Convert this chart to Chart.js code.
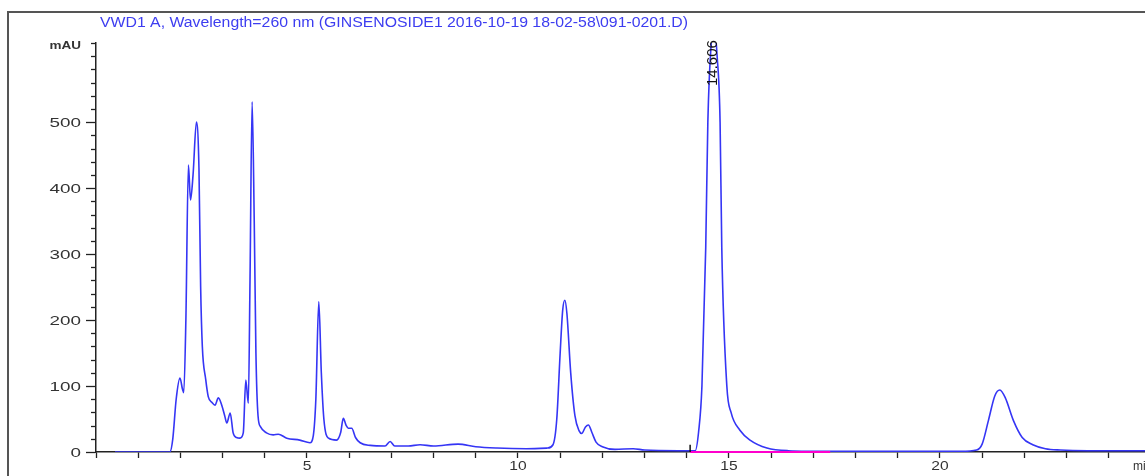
<!DOCTYPE html>
<html>
<head>
<meta charset="utf-8">
<script src="https://cdn.jsdelivr.net/npm/chart.js@4.4.1/dist/chart.umd.min.js"></script>
<style>
  html, body { margin: 0; padding: 0; background: #fff; overflow: hidden; }
  #wrap { width: 1145px; height: 476px; position: relative; }
</style>
</head>
<body>
<div id="wrap"><canvas id="hplcChart" width="1145" height="476"></canvas></div>
<script>
const chartTitle = 'VWD1 A, Wavelength=260 nm (GINSENOSIDE1 2016-10-19 18-02-58\\091-0201.D)';

// retention time (min) and signal (mAU)
const times = [0.45, 1.75, 1.82, 1.90, 1.99, 2.05, 2.08, 2.13, 2.19, 2.24, 2.30, 2.38, 2.44, 2.48, 2.52, 2.60, 2.66, 2.75, 2.82, 2.90,
  2.98, 3.05, 3.10, 3.18, 3.25, 3.33, 3.41, 3.49, 3.55, 3.61, 3.65, 3.70, 3.75, 3.79, 3.84, 3.90, 4.04, 4.20, 4.32, 4.52,
  4.83, 5.07, 5.15, 5.21, 5.28, 5.34, 5.40, 5.51, 5.70, 5.80, 5.86, 5.93, 5.98, 6.06, 6.15, 6.26, 6.50, 6.85, 6.97, 7.08,
  7.40, 7.68, 8.00, 8.58, 9.00, 9.50, 10.20, 10.70, 10.83, 10.92, 11.00, 11.06, 11.11, 11.16, 11.25, 11.35, 11.45, 11.51, 11.60, 11.67,
  11.75, 11.85, 12.00, 12.30, 12.73, 13.00, 13.80, 14.20, 14.28, 14.36, 14.45, 14.50, 14.58, 14.64, 14.72, 14.79, 14.83, 14.95, 15.05, 15.26,
  15.50, 15.90, 16.40, 17.50, 20.50, 20.87, 21.00, 21.15, 21.30, 21.42, 21.55, 21.74, 21.95, 22.20, 22.50, 22.85, 23.50, 24.86];
const signal = [0, 0, 20, 80, 112, 95, 90, 200, 435, 382, 420, 500, 430, 250, 160, 110, 84, 75, 71, 82,
  71, 55, 44, 59, 29, 22, 21, 29, 109, 74, 261, 531, 350, 150, 55, 38, 29, 26, 27, 21,
  18, 14, 25, 80, 228, 120, 50, 21, 18, 30, 51, 40, 36, 36, 22, 14, 10, 9, 16, 9,
  9, 11, 9, 12, 8, 6, 5, 6, 11, 50, 150, 215, 230, 210, 120, 55, 32, 28, 38, 41,
  30, 15, 8, 4, 5, 3, 2, 2, 30, 100, 310, 500, 620, 650, 600, 500, 310, 100, 60, 33,
  18, 6, 2, 1, 1, 3, 12, 48, 85, 94, 82, 48, 22, 11, 5, 3, 2, 2];

// integration baseline and start marker
const baselineTimes = [14.08, 17.4];
const baselineValues = [0, 0];
const markerTimes = [14.08, 14.08];
const markerValues = [0, 11];

const peakTimes = [14.64];
const peakLabels = ['14.606'];

const xMax = 24.86;
const yMax = 620;
const fontFamily = '"Liberation Sans", Arial, sans-serif';

const toPoints = (xs, ys) => xs.map((x, i) => ({ x: x, y: ys[i] }));

// the original printout has horizontally stretched lettering
function stretchedText(ctx, text, x, y, align, sx) {
  const w = ctx.measureText(text).width * sx;
  let left = x;
  if (align === 'right') left = x - w;
  if (align === 'center') left = x - w / 2;
  ctx.save();
  ctx.translate(left, y);
  ctx.scale(sx, 1);
  ctx.textAlign = 'left';
  ctx.fillText(text, 0, 0);
  ctx.restore();
}

const frameAndText = {
  id: 'frameAndText',
  afterDraw(chart) {
    const ctx = chart.ctx;
    const xs = chart.scales.x;
    const ys = chart.scales.y;
    ctx.save();
    // outer frame
    ctx.strokeStyle = '#555';
    ctx.lineWidth = 2;
    ctx.beginPath();
    ctx.moveTo(8, 476);
    ctx.lineTo(8, 12);
    ctx.lineTo(1145, 12);
    ctx.stroke();

    // title, fitted to the width it has in the printout
    ctx.fillStyle = '#3d3df0';
    ctx.font = '14px ' + fontFamily;
    ctx.textBaseline = 'alphabetic';
    const tw = ctx.measureText(chartTitle).width;
    stretchedText(ctx, chartTitle, 100, 27, 'left', 588 / tw);

    // minor y ticks
    ctx.strokeStyle = '#222';
    ctx.lineWidth = 1.3;
    for (let v = 20; v <= yMax; v += 20) {
      if (v % 100 === 0 && v <= 500) continue;
      const py = Math.round(ys.getPixelForValue(v)) + 0.5;
      ctx.beginPath();
      ctx.moveTo(xs.left - 5, py);
      ctx.lineTo(xs.left, py);
      ctx.stroke();
    }

    // tick labels
    ctx.fillStyle = '#333';
    ctx.font = '13px ' + fontFamily;
    ctx.textBaseline = 'middle';
    ys.ticks.forEach(t => {
      if (t.value % 100 === 0 && t.value <= 500) {
        stretchedText(ctx, String(t.value), 81, ys.getPixelForValue(t.value) + 1, 'right', 1.45);
      }
    });
    xs.ticks.forEach(t => {
      if (t.value > 0 && t.value % 5 === 0) {
        stretchedText(ctx, String(t.value), xs.getPixelForValue(t.value), 466, 'center', 1.2);
      }
    });

    // axis units
    ctx.font = 'bold 10px ' + fontFamily;
    stretchedText(ctx, 'mAU', 81, ys.getPixelForValue(yMax) + 3, 'right', 1.35);
    ctx.font = '12px ' + fontFamily;
    stretchedText(ctx, 'min', 1133, 467, 'left', 1.0);

    // peak labels, rotated
    ctx.fillStyle = '#111';
    ctx.font = '15px ' + fontFamily;
    peakTimes.forEach((t, i) => {
      ctx.save();
      ctx.translate(xs.getPixelForValue(t) - 1, 86);
      ctx.rotate(-Math.PI / 2);
      ctx.textAlign = 'left';
      ctx.textBaseline = 'middle';
      ctx.fillText(peakLabels[i], 0, 0);
      ctx.restore();
    });
    ctx.restore();
  }
};

const ctx1 = document.getElementById('hplcChart').getContext('2d');
const hplcChart = new Chart(ctx1, {
  type: 'line',
  data: {
    datasets: [
      {
        label: 'marker',
        data: toPoints(markerTimes, markerValues),
        borderColor: '#111',
        borderWidth: 1.5,
        pointRadius: 0,
        clip: false,
        order: 0
      },
      {
        label: 'baseline',
        data: toPoints(baselineTimes, baselineValues),
        borderColor: '#ff00cc',
        borderWidth: 2,
        pointRadius: 0,
        clip: false,
        order: 1
      },
      {
        label: 'VWD1 A',
        data: toPoints(times, signal),
        borderColor: '#3535f5',
        borderWidth: 1.6,
        pointRadius: 0,
        cubicInterpolationMode: 'monotone',
        order: 2
      }
    ]
  },
  options: {
    responsive: false,
    animation: false,
    maintainAspectRatio: false,
    layout: { padding: { top: 43, left: 0, right: 0, bottom: 0 } },
    plugins: {
      legend: { display: false },
      title: { display: false },
      tooltip: { enabled: false }
    },
    scales: {
      x: {
        type: 'linear',
        min: 0,
        max: xMax,
        afterFit(scale) { scale.height = 24; },
        border: { display: true, color: '#222', width: 1.5 },
        grid: { display: true, drawOnChartArea: false, drawTicks: true, tickLength: 6, tickColor: '#222', tickWidth: 1.3 },
        ticks: {
          stepSize: 1,
          autoSkip: false,
          maxRotation: 0,
          includeBounds: false,
          callback: () => ''
        }
      },
      y: {
        min: 0,
        max: yMax,
        afterFit(scale) { scale.width = 96; },
        border: { display: true, color: '#222', width: 1.5 },
        grid: {
          display: true, drawOnChartArea: false, drawTicks: true, tickLength: 10, tickWidth: 1.3,
          tickColor: c => (c.tick && c.tick.value % 100 === 0 && c.tick.value <= 500) ? '#222' : 'rgba(0,0,0,0)'
        },
        ticks: {
          stepSize: 20,
          autoSkip: false,
          callback: () => ''
        }
      }
    }
  },
  plugins: [frameAndText]
});
</script>
</body>
</html>
